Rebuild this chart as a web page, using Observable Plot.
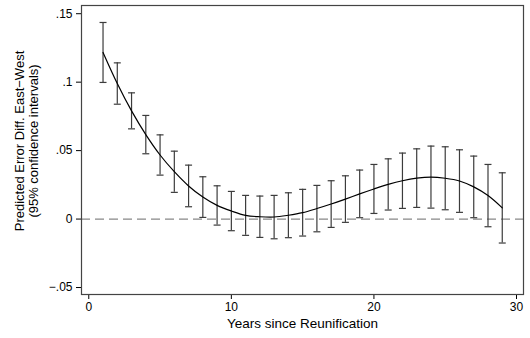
<!DOCTYPE html>
<html>
<head>
<meta charset="utf-8">
<script src="https://cdn.jsdelivr.net/npm/d3@7"></script>
<script src="https://cdn.jsdelivr.net/npm/@observablehq/plot@0.6"></script>
<style>
  html, body { margin: 0; padding: 0; background: #fff; }
  #chart svg { display: block; }
</style>
</head>
<body>
<div id="chart"></div>
<script>
const years = [1,2,3,4,5,6,7,8,9,10,11,12,13,14,15,16,17,18,19,20,21,22,23,24,25,26,27,28,29];
const estimate = [0.1217,0.0990,0.0790,0.0617,0.0468,0.0346,0.0242,0.0161,0.0100,0.0059,0.0027,0.0017,0.0015,0.0028,0.0047,0.0077,0.0110,0.0146,0.0184,0.0220,0.0253,0.0280,0.0299,0.0307,0.0298,0.0278,0.0235,0.0172,0.0082];
const lower = [0.0998,0.0839,0.0659,0.0477,0.0321,0.0195,0.0090,0.0012,-0.0044,-0.0085,-0.0119,-0.0134,-0.0144,-0.0136,-0.0124,-0.0093,-0.0061,-0.0024,0.0010,0.0041,0.0066,0.0078,0.0085,0.0080,0.0068,0.0049,0.0010,-0.0056,-0.0175];
const upper = [0.1436,0.1141,0.0922,0.0757,0.0615,0.0496,0.0394,0.0309,0.0243,0.0202,0.0173,0.0168,0.0173,0.0192,0.0217,0.0246,0.0280,0.0316,0.0358,0.0399,0.0440,0.0482,0.0513,0.0533,0.0528,0.0506,0.0460,0.0399,0.0338];
const xTicks = [0, 10, 20, 30];
const yTicks = [-0.05, 0, 0.05, 0.1, 0.15];
const yTickLabels = ["\u2212.05", "0", ".05", ".1", ".15"];
const xTitle = "Years since Reunification";
const yTitle = "Predicted Error Diff. East\u2212West\n(95% confidence intervals)";

const data = years.map((yr, i) => ({year: yr, est: estimate[i], lo: lower[i], hi: upper[i]}));
const capHalf = 0.245;

const chart = Plot.plot({
  width: 530,
  height: 338,
  marginLeft: 81,
  marginRight: 7,
  marginTop: 5,
  marginBottom: 44,
  style: {fontFamily: "Liberation Sans, Arial, Helvetica, sans-serif", fontSize: "12px", color: "#000", background: "#fff"},
  x: {domain: [-0.51, 30.49], ticks: xTicks, tickSize: 5, tickPadding: 3, tickFormat: d => String(d), label: null},
  y: {domain: [-0.0551, 0.156], ticks: yTicks, tickSize: 5, tickPadding: 4,
      tickFormat: d => yTickLabels[yTicks.findIndex(t => Math.abs(t - d) < 1e-9)], label: null},
  marks: [
    Plot.ruleY([0], {stroke: "#888", strokeWidth: 1.3, strokeDasharray: "9,5"}),
    Plot.ruleX(data, {x: "year", y1: "lo", y2: "hi", stroke: "#3c3c3c", strokeWidth: 1.2}),
    Plot.link(data, {x1: d => d.year - capHalf, x2: d => d.year + capHalf, y1: "hi", y2: "hi", stroke: "#3c3c3c", strokeWidth: 1.2}),
    Plot.link(data, {x1: d => d.year - capHalf, x2: d => d.year + capHalf, y1: "lo", y2: "lo", stroke: "#3c3c3c", strokeWidth: 1.2}),
    Plot.line(data, {x: "year", y: "est", curve: "catmull-rom", stroke: "#000", strokeWidth: 1.2}),
    Plot.frame({stroke: "#444", strokeWidth: 1.2}),
    Plot.text([xTitle], {frameAnchor: "bottom", dy: 33, text: d => d, fontSize: 13.5, fill: "#000"}),
    Plot.text([yTitle], {frameAnchor: "left", textAnchor: "middle", dx: -55, dy: -9, rotate: -90, text: d => d, fontSize: 13, lineHeight: 1.08, fill: "#000"})
  ]
});
document.getElementById("chart").appendChild(chart);
</script>
</body>
</html>
